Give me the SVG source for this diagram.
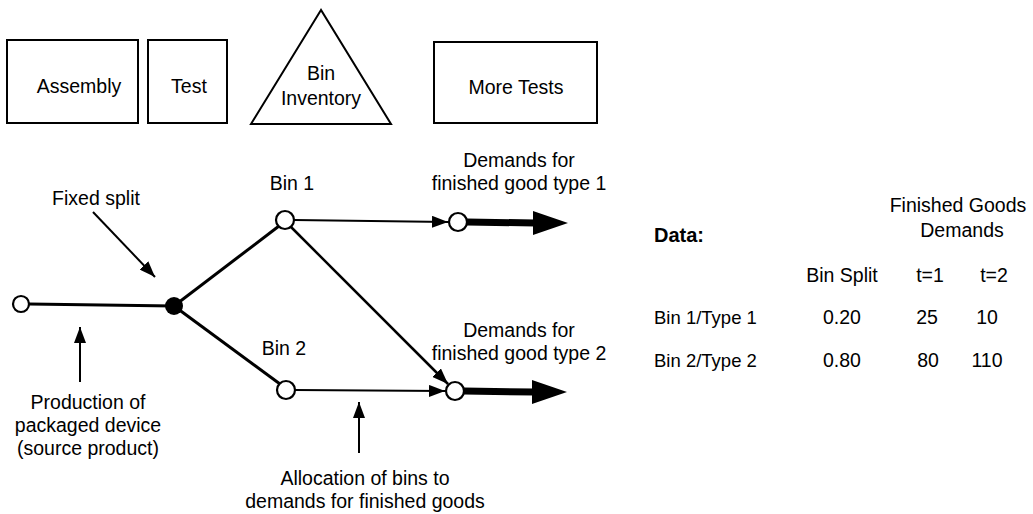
<svg xmlns="http://www.w3.org/2000/svg" width="1033" height="514" viewBox="0 0 1033 514">
<style>
text{font-family:"Liberation Sans",Arial,sans-serif;font-size:19.5px;fill:#000}
.c{text-anchor:middle}
.row{font-size:18.5px}
.box{fill:#fff;stroke:#000;stroke-width:2}
.node{fill:#fff;stroke:#000;stroke-width:2.2}
.edge{stroke:#000;stroke-width:3;fill:none}
.thin{stroke:#000;stroke-width:2;fill:none}
</style>
<defs>
<marker id="ah2" markerWidth="16" markerHeight="12" refX="16" refY="6" orient="auto" markerUnits="userSpaceOnUse" viewBox="0 0 16 12">
<path d="M0,0 L16,6 L0,12 Z" fill="#000"/>
</marker>
</defs>
<rect width="1033" height="514" fill="#fff"/>
<g id="assembly"><rect class="box" x="7" y="40" width="131" height="83"/><text class="c" x="79" y="93">Assembly</text></g>
<g id="test"><rect class="box" x="148" y="40" width="79" height="83"/><text class="c" x="189" y="93">Test</text></g>
<g id="bin-inventory"><polygon class="box" points="321,10 251,124 391,124"/><text class="c" x="321" y="80">Bin</text><text class="c" x="321" y="105">Inventory</text></g>
<g id="more-tests"><rect class="box" x="434" y="42" width="163" height="81"/><text class="c" x="516" y="94">More Tests</text></g>
<g id="connectors">
<line class="edge" x1="29" y1="304" x2="174" y2="306"/>
<line class="edge" x1="174" y1="306" x2="279" y2="226"/>
<line class="edge" x1="174" y1="306" x2="280" y2="384"/>
<line class="thin" x1="294" y1="220" x2="448" y2="222" marker-end="url(#ah2)"/>
<line class="thin" x1="291" y1="227" x2="448" y2="384" style="stroke-width:2.5" marker-end="url(#ah2)"/>
<line class="thin" x1="295" y1="390" x2="445" y2="391" marker-end="url(#ah2)"/>
<line class="thin" x1="93" y1="212" x2="155" y2="277" marker-end="url(#ah2)"/>
<line class="thin" x1="80" y1="382" x2="80" y2="327" marker-end="url(#ah2)"/>
<line class="thin" x1="359" y1="453" x2="359" y2="402" marker-end="url(#ah2)"/>
<line x1="467" y1="222" x2="535" y2="223" stroke="#000" stroke-width="7"/>
<polygon points="533,211 568,223 533,235" fill="#000"/>
<line x1="464" y1="391" x2="534" y2="392" stroke="#000" stroke-width="7"/>
<polygon points="532,380 567,392 532,404" fill="#000"/>
</g>
<g id="source"><circle class="node" cx="21" cy="304" r="8"/></g>
<g id="split"><circle cx="174" cy="306" r="9" fill="#000"/></g>
<g id="bin1"><circle class="node" cx="285" cy="220" r="9"/><text class="c" x="292" y="190">Bin 1</text></g>
<g id="bin2"><circle class="node" cx="286" cy="390" r="9"/><text class="c" x="284" y="355">Bin 2</text></g>
<g id="demand1"><circle class="node" cx="458" cy="222" r="9"/><text class="c" x="519" y="167">Demands for</text><text class="c" x="519" y="190">finished good type 1</text></g>
<g id="demand2"><circle class="node" cx="455" cy="391" r="9"/><text class="c" x="519" y="337">Demands for</text><text class="c" x="519" y="360">finished good type 2</text></g>
<g id="labels">
<text class="c" x="96" y="205">Fixed split</text>
<text class="c" x="88" y="409">Production of</text>
<text class="c" x="88" y="432">packaged device</text>
<text class="c" x="88" y="455">(source product)</text>
<text class="c" x="365" y="485">Allocation of bins to</text>
<text class="c" x="365" y="508">demands for finished goods</text>
</g>
<g id="data-table">
<text x="654" y="242" style="font-weight:bold;font-size:20px">Data:</text>
<text class="c" x="958" y="212">Finished Goods</text>
<text class="c" x="962" y="237">Demands</text>
<text class="c" x="842" y="282">Bin Split</text>
<text class="c" x="930" y="282">t=1</text>
<text class="c" x="994" y="282">t=2</text>
<text class="row" x="654" y="324">Bin 1/Type 1</text>
<text class="c" x="842" y="324">0.20</text>
<text class="c" x="927" y="324">25</text>
<text class="c" x="987" y="324">10</text>
<text class="row" x="654" y="367">Bin 2/Type 2</text>
<text class="c" x="842" y="367">0.80</text>
<text class="c" x="928" y="367">80</text>
<text class="c" x="987" y="367">110</text>
</g>
</svg>
